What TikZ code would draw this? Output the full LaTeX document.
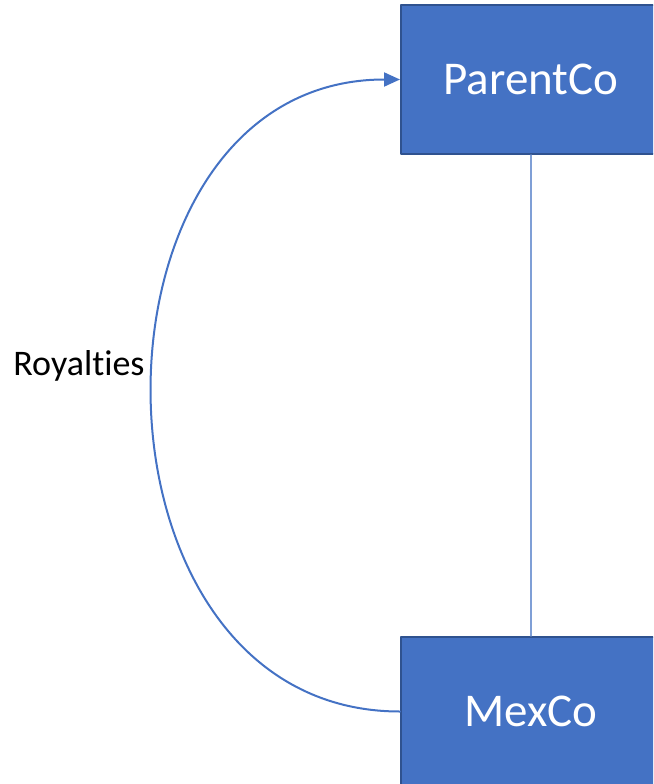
\documentclass[tikz,border=0pt]{standalone}
\usepackage{fontspec}
\setmainfont[Ligatures=NoCommon]{Carlito}
\usetikzlibrary{arrows.meta}
\definecolor{boxblue}{HTML}{4472C4}
\definecolor{boxedge}{HTML}{2F528F}
\definecolor{linkblue}{HTML}{7F9FD6}
\begin{document}
\begin{tikzpicture}[x=1pt, y=-1pt, line cap=round, line join=round,
  company/.style={draw=boxedge, line width=2pt, fill=boxblue, text=white,
    minimum width=260pt, minimum height=149pt, font=\fontsize{47}{56}\selectfont},
  royal/.style={draw=boxblue, line width=2pt, -{Triangle[length=16pt,width=14pt]}}]
\clip (0,0) rectangle (653,784);
\node[company] (ParentCo) at (531,79.5) {ParentCo};
\node[company] (MexCo) at (531,711.5) {MexCo};
\draw[linkblue, line width=1.3pt] (ParentCo.south) -- (MexCo.north);
\draw[royal] (MexCo.west) .. controls (70,711.5) and (70,79.5) .. (ParentCo.west);
\node[font=\fontsize{36}{43}\selectfont] (royalties) at (79,366) {Royalties};
\end{tikzpicture}
\end{document}
